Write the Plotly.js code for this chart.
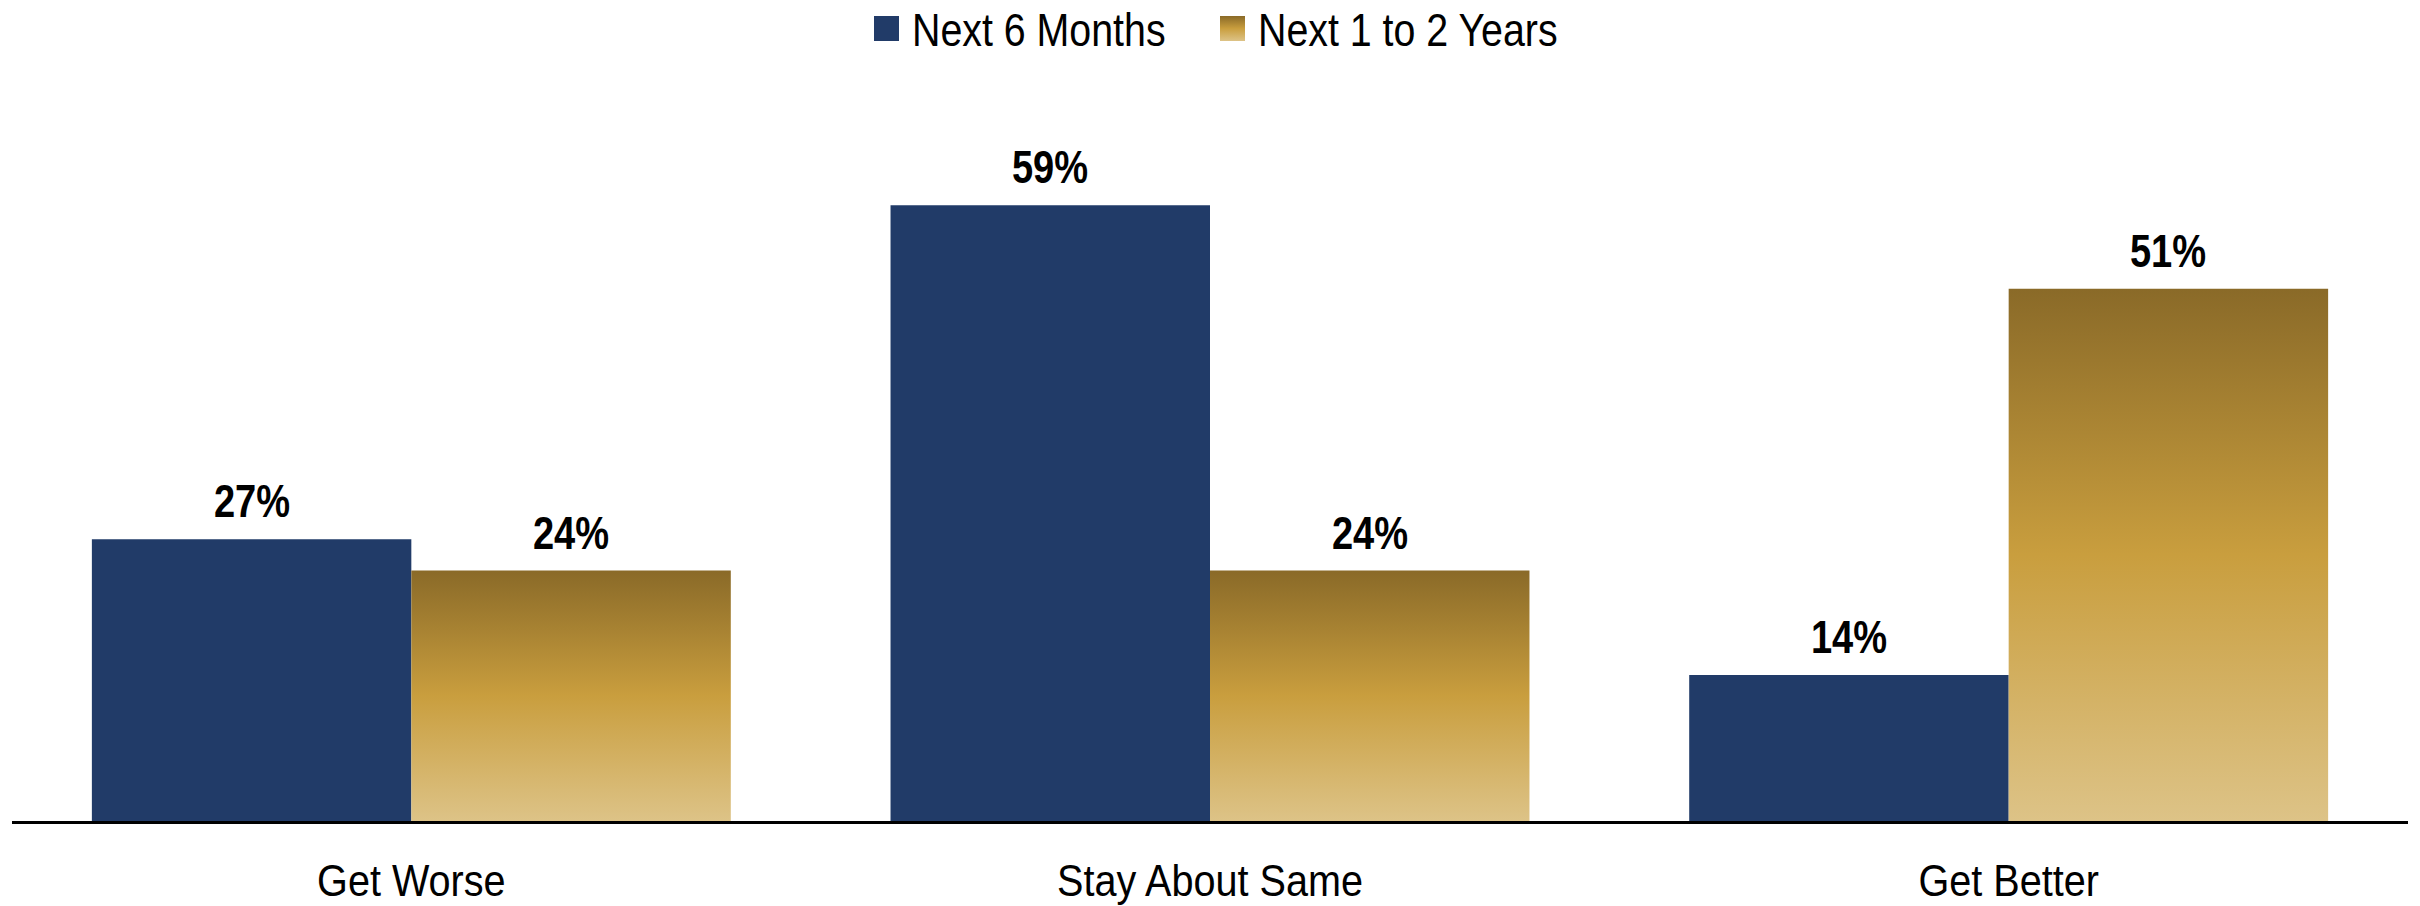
<!DOCTYPE html>
<html>
<head>
<meta charset="utf-8">
<script src="https://cdn.plot.ly/plotly-3.0.1.min.js"></script>
<style>
html,body{margin:0;padding:0;background:#fff;}
#chart{width:2420px;height:906px;}
</style>
</head>
<body>
<div id="chart"></div>
<script>
const categories = ["Get Worse", "Stay About Same", "Get Better"];
const seriesNames = ["Next 6 Months", "Next 1 to 2 Years"];
const next6Months = [27, 59, 14];
const next1to2Years = [24, 24, 51];

const FONT = '"Liberation Sans", Arial, sans-serif';
const BLUE = '#213B68';
const GOLD = '#C99E3E';

const traces = [
  {type:'bar', name:seriesNames[0], x:categories, y:next6Months, marker:{color:BLUE}},
  {type:'bar', name:seriesNames[1], x:categories, y:next1to2Years, marker:{color:GOLD}}
];

const annotations = [];
[next6Months, next1to2Years].forEach((vals, si) => {
  vals.forEach((v, ci) => {
    annotations.push({
      x: ci + (si === 0 ? -0.2 : 0.2), y: v, xref:'x', yref:'y',
      text: v + '%', showarrow:false, yanchor:'bottom', yshift:10,
      font:{family:FONT, size:47, color:'#000', weight:'bold'}
    });
  });
});

const layout = {
  width:2420, height:906,
  margin:{l:12, r:12, t:80, b:85},
  paper_bgcolor:'#fff', plot_bgcolor:'#fff',
  barmode:'group', bargap:0.2, bargroupgap:0,
  showlegend:true,
  legend:{orientation:'h', x:0.5, xanchor:'center', y:1, yref:'container', yanchor:'top',
          font:{family:FONT, size:46, color:'#000'}, itemwidth:30, traceorder:'normal'},
  xaxis:{type:'category', showline:true, linecolor:'#000', linewidth:3, ticks:'',
         tickfont:{family:FONT, size:45, color:'#000'}, ticklabelstandoff:18, showgrid:false, zeroline:false},
  yaxis:{range:[0,71], visible:false, showgrid:false, zeroline:false},
  annotations: annotations,
  font:{family:FONT}
};

function compress(el, ratio) {
  const w = el.getComputedTextLength();
  if (w > 0) {
    el.setAttribute('textLength', (w * ratio).toFixed(2));
    el.setAttribute('lengthAdjust', 'spacingAndGlyphs');
  }
}

function parseTranslate(str) {
  const m = /translate\(\s*([-\d.e]+)[ ,]+([-\d.e]+)\s*\)/.exec(str || '');
  return m ? [parseFloat(m[1]), parseFloat(m[2])] : [0, 0];
}

Plotly.newPlot('chart', traces, layout, {displayModeBar:false, staticPlot:true}).then(gd => {
  const svg = gd.querySelector('svg.main-svg');
  const ns = 'http://www.w3.org/2000/svg';
  let defs = svg.querySelector('defs');
  if (!defs) { defs = document.createElementNS(ns,'defs'); svg.insertBefore(defs, svg.firstChild); }
  const lg = document.createElementNS(ns,'linearGradient');
  lg.setAttribute('id','goldGrad');
  lg.setAttribute('x1','0'); lg.setAttribute('y1','0'); lg.setAttribute('x2','0'); lg.setAttribute('y2','1');
  [['0','#8A6A28'],['0.5','#C99E3E'],['1','#DDC387']].forEach(([o,c]) => {
    const s = document.createElementNS(ns,'stop');
    s.setAttribute('offset',o); s.setAttribute('stop-color',c);
    lg.appendChild(s);
  });
  defs.appendChild(lg);

  const bars = gd.querySelectorAll('.barlayer .trace');
  if (bars[1]) bars[1].querySelectorAll('path').forEach(p => { p.style.fill = 'url(#goldGrad)'; });

  // narrow-style text
  gd.querySelectorAll('.xtick text').forEach(t => compress(t, 0.88));
  gd.querySelectorAll('.annotation-text').forEach(t => compress(t, 0.81));

  // legend: bigger squares, narrow text, tight spacing
  const sqLeft = [874, 1220];
  const sqTop = 16;
  const sqSize = 25;
  const textGap = 13;
  gd.querySelectorAll('.legend .traces').forEach((t, i) => {
    const p = t.querySelector('.legendpoints path');
    const txt = t.querySelector('text.legendtext');
    if (p) {
      const h = sqSize / 2;
      p.setAttribute('d', `M${h},${h}H-${h}V-${h}H${h}Z`);
      if (i === 1) p.style.fill = 'url(#goldGrad)';
    }
    if (txt) compress(txt, 0.855);
    if (p) {
      const pr = p.getBoundingClientRect();
      const dx = sqLeft[i] - pr.left, dy = sqTop - pr.top;
      const [a, b] = parseTranslate(t.getAttribute('transform'));
      t.setAttribute('transform', `translate(${a + dx},${b + dy})`);
    }
    if (txt && p) {
      const pr = p.getBoundingClientRect();
      const tr = txt.getBoundingClientRect();
      const x0 = parseFloat(txt.getAttribute('x') || '0');
      txt.setAttribute('x', x0 + (pr.right + textGap - tr.left));
    }
  });
});
</script>
</body>
</html>
